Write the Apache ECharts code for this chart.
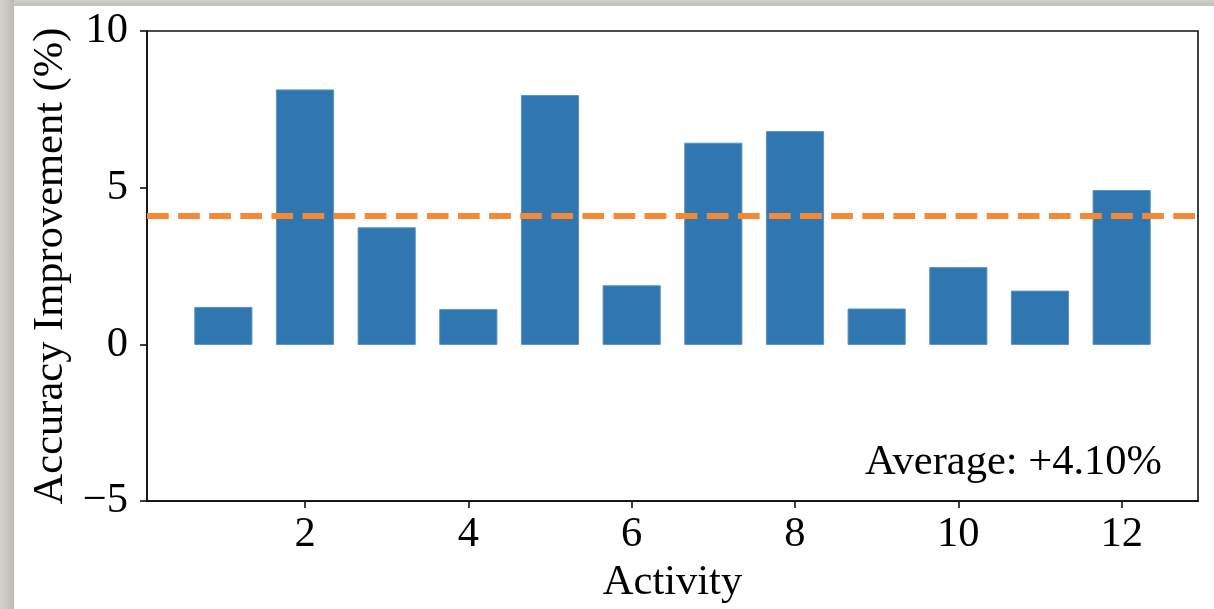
<!DOCTYPE html>
<html>
<head>
<meta charset="utf-8">
<script src="https://cdn.jsdelivr.net/npm/echarts@6/dist/echarts.min.js"></script>
<style>
  html, body { margin: 0; padding: 0; background: #ffffff; }
  #wrap { position: relative; width: 1214px; height: 609px; overflow: hidden; background: #ffffff; }
  #bandTop { position: absolute; left: 0; top: 0; width: 1214px; height: 6px; background: linear-gradient(to bottom, #d2d0cb, #c3c0ba); }
  #bandLeft { position: absolute; left: 0; top: 0; width: 14px; height: 609px; background: linear-gradient(to right, #d4d2cd, #bdbab3); }
  #chart { position: absolute; left: 0; top: 0; width: 1214px; height: 609px; }
</style>
</head>
<body>
<div id="wrap">
  <div id="bandTop"></div>
  <div id="bandLeft"></div>
  <div id="chart"></div>
</div>
<script>
// ---- data ----
const activities = [1, 2, 3, 4, 5, 6, 7, 8, 9, 10, 11, 12];
const improvements = [1.18, 8.12, 3.72, 1.11, 7.94, 1.87, 6.42, 6.79, 1.13, 2.45, 1.70, 4.91];
const averageValue = 4.10;
const xTickValues = [2, 4, 6, 8, 10, 12];
const yTickValues = [-5, 0, 5, 10];
const xLabel = 'Activity';
const yLabel = 'Accuracy Improvement (%)';
const annotation = 'Average: +4.10%';

// ---- layout constants ----
const BAR_WIDTH = 0.7;
const X_MIN = 0.065, X_MAX = 12.935;
const FONT = '"Liberation Serif", "Times New Roman", Times, serif';
const FS = 42.5;

const chart = echarts.init(document.getElementById('chart'), null, { renderer: 'canvas' });

const barData = activities.map((a, i) => [a, improvements[i]]);

const option = {
  animation: false,
  backgroundColor: 'transparent',
  grid: {
    left: 147, top: 31, right: 16, bottom: 107.5,
    show: true, borderColor: '#111', borderWidth: 1.6, backgroundColor: 'transparent'
  },
  xAxis: {
    type: 'value',
    min: X_MIN, max: X_MAX,
    name: xLabel,
    nameLocation: 'middle',
    nameGap: 57,
    nameTextStyle: { fontFamily: FONT, fontSize: FS, color: '#000' },
    axisLine: { show: true, onZero: false, lineStyle: { color: '#111', width: 1.6 } },
    axisTick: { show: true, inside: false, length: 7, customValues: xTickValues, lineStyle: { color: '#111', width: 1.6 } },
    axisLabel: { show: true, customValues: xTickValues, margin: 12, fontFamily: FONT, fontSize: FS, color: '#000' },
    splitLine: { show: false }
  },
  yAxis: {
    type: 'value',
    min: -5, max: 10, interval: 5,
    name: yLabel,
    nameLocation: 'middle',
    nameRotate: 90,
    nameGap: 65,
    nameTextStyle: { fontFamily: FONT, fontSize: FS, color: '#000' },
    axisLine: { show: true, onZero: false, lineStyle: { color: '#111', width: 1.6 } },
    axisTick: { show: true, inside: false, length: 7, customValues: yTickValues, lineStyle: { color: '#111', width: 1.6 } },
    axisLabel: {
      show: true, customValues: yTickValues, margin: 19, fontFamily: FONT, fontSize: FS, color: '#000',
      formatter: v => String(v).replace('-', '\u2212')
    },
    splitLine: { show: false }
  },
  series: [
    {
      type: 'custom',
      data: barData,
      z: 2,
      renderItem: function (params, api) {
        const x = api.value(0), y = api.value(1);
        const p1 = api.coord([x - BAR_WIDTH / 2, y]);
        const p2 = api.coord([x + BAR_WIDTH / 2, 0]);
        return {
          type: 'rect',
          shape: { x: p1[0], y: Math.min(p1[1], p2[1]), width: p2[0] - p1[0], height: Math.abs(p2[1] - p1[1]) },
          style: { fill: '#3076b0', stroke: '#5a93c4', lineWidth: 1 }
        };
      }
    },
    {
      type: 'line',
      data: [[X_MIN, averageValue], [X_MAX, averageValue]],
      symbol: 'none',
      z: 3,
      lineStyle: { color: '#f68a34', width: 6, type: [21.7, 9.4], dashOffset: 0, cap: 'butt' }
    }
  ],
  graphic: [
    {
      type: 'text',
      x: 1162, y: 441,
      z: 10,
      style: {
        text: annotation,
        fontFamily: FONT, fontSize: FS, fill: '#000',
        textAlign: 'right', textVerticalAlign: 'alphabetic'
      }
    }
  ]
};

chart.setOption(option);
</script>
</body>
</html>
